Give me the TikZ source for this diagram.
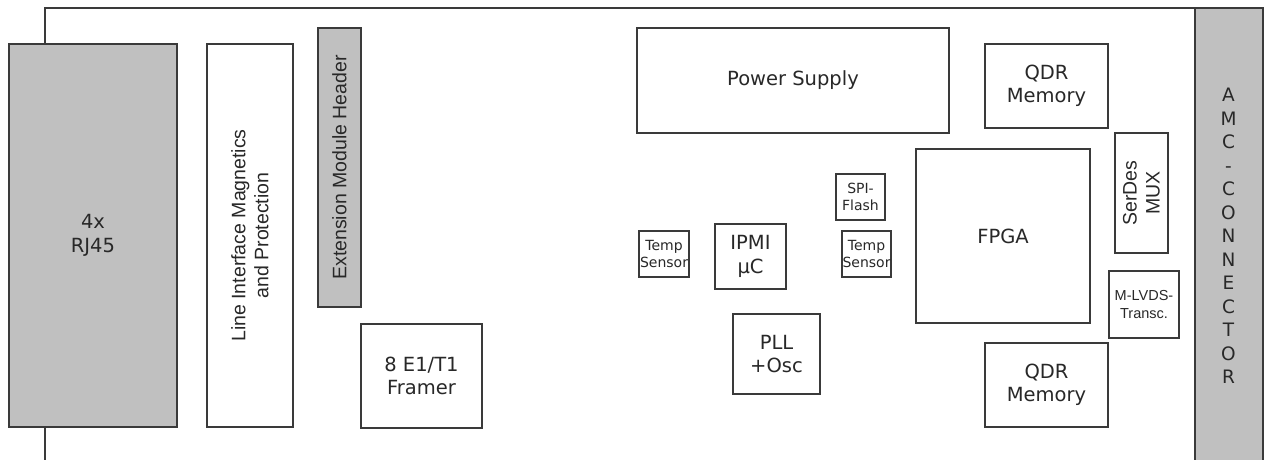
\documentclass[tikz,border=0pt]{standalone}
\usepackage{fontspec}
\setmainfont{DejaVu Sans}
\newfontfamily\arialf{Liberation Sans}
\definecolor{ln}{HTML}{3A3A3A}
\definecolor{gr}{HTML}{C0C0C0}
\definecolor{tx}{HTML}{282828}
\begin{document}
\begin{tikzpicture}[x=1pt,y=-1pt,
  box/.style={draw=ln, line width=1.4pt, fill=white, text=tx, inner sep=0pt, outer sep=0pt,
    align=center, font=\fontsize{19.5}{23.5}\selectfont},
  gbox/.style={box, fill=gr},
  small/.style={font=\fontsize{14}{17}\selectfont},
  smallarial/.style={font=\arialf\fontsize{14.5}{18}\selectfont},
  rtext/.style={rotate=90, text=tx, inner sep=0pt, align=center, font=\arialf\fontsize{19.5}{23}\selectfont},
  board/.style={draw=ln, line width=1.4pt}]
\useasboundingbox (0,0) rectangle (1265,459);
% board outline
\coordinate (bl) at (45,462);
\coordinate (tl) at (45,8);
\coordinate (tr) at (1195,8);
\draw[board] (bl) -- (tl) -- (tr);
% AMC connector
\node[gbox, minimum width=68pt, minimum height=456pt, anchor=north west] (amc) at (1195,8) {};
\node[text=tx, inner sep=0pt, align=center, font=\fontsize{18.5}{23.5}\selectfont] (amct) at (1228.5,236)
  {A\\M\\C\\-\\C\\O\\N\\N\\E\\C\\T\\O\\R};
% left blocks
\node[gbox, minimum width=168pt, minimum height=383pt] (rj) at (93,235.5) {4x\\RJ45};
\node[box, minimum width=86pt, minimum height=383pt] (lif) at (250,235.5) {};
\node[rtext] (lift) at (lif.center) {Line Interface Magnetics\\and Protection};
\node[gbox, minimum width=43pt, minimum height=279pt] (ext) at (339.5,167.5) {};
\node[rtext] (extt) at (ext.center) {Extension Module Header};
\node[box, minimum width=121pt, minimum height=104pt] (fr) at (421.5,376) {8 E1/T1\\Framer};
% middle blocks
\node[box, minimum width=312pt, minimum height=105pt] (ps) at (793,80.5) {Power Supply};
\node[box, small, minimum width=50pt, minimum height=46pt] (tsl) at (664,254) {Temp\\Sensor};
\node[box, minimum width=71pt, minimum height=65pt] (ipmi) at (750.5,256.5) {IPMI\\µC};
\node[box, small, minimum width=49pt, minimum height=46pt] (spi) at (860.5,197) {SPI-\\Flash};
\node[box, small, minimum width=49pt, minimum height=46pt] (tsr) at (866.5,254) {Temp\\Sensor};
\node[box, minimum width=87pt, minimum height=80pt] (pll) at (776.5,354) {PLL\\+Osc};
% right blocks
\node[box, minimum width=174pt, minimum height=174pt] (fpga) at (1003,236) {FPGA};
\node[box, minimum width=123pt, minimum height=84pt] (qdr1) at (1046.5,86) {QDR\\Memory};
\node[box, minimum width=123pt, minimum height=84pt] (qdr2) at (1046.5,385) {QDR\\Memory};
\node[box, minimum width=53pt, minimum height=120pt] (sd) at (1141.5,193) {};
\node[rtext] (sdt) at (sd.center) {SerDes\\MUX};
\node[box, smallarial, minimum width=70pt, minimum height=67pt] (ml) at (1144,304.5) {M-LVDS-\\Transc.};
\end{tikzpicture}
\end{document}
